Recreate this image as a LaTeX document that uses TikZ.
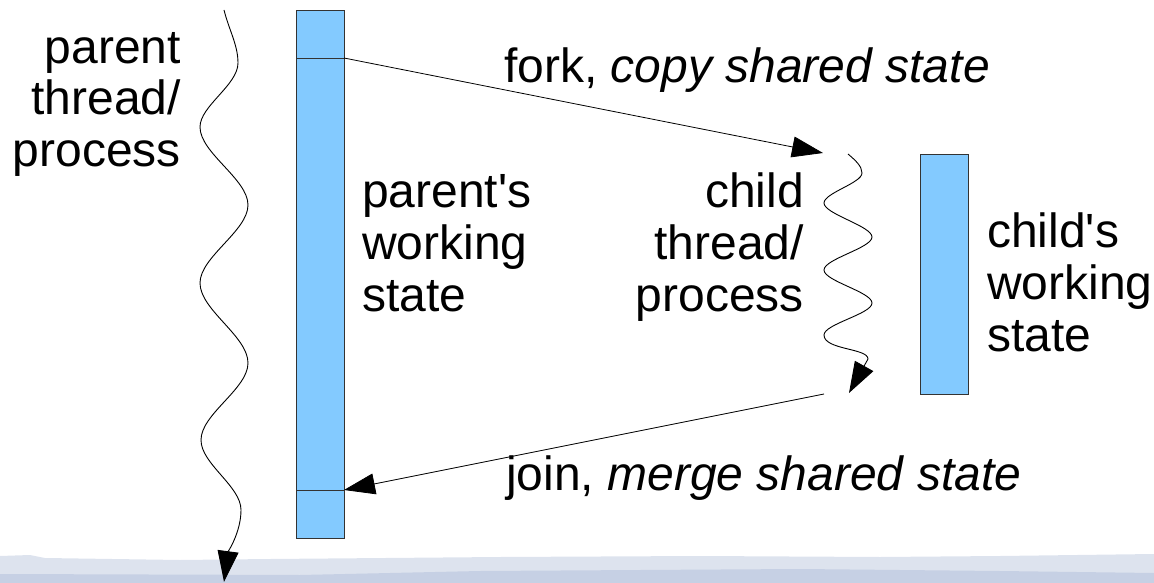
\documentclass[tikz,border=0pt]{standalone}
\usepackage{fontspec}
\setmainfont{Liberation Sans}
\usetikzlibrary{arrows.meta}
\definecolor{barblue}{HTML}{83CAFF}
\definecolor{bandA}{HTML}{DDE3EE}
\definecolor{bandB}{HTML}{C6D0E4}
\begin{document}
\begin{tikzpicture}[x=1pt,y=-1pt,
  bar/.style={draw=black!80, fill=barblue, line width=0.8pt, minimum width=48pt, inner sep=0pt, anchor=north west},
  lbl/.style={font=\fontsize{48}{52}\selectfont, inner sep=0pt},
  tri/.style={-{Triangle[length=31pt,width=21pt]}},
  arr/.style={line width=0.8pt, tri},
  wave/.style={line width=0.9pt, tri}]
\useasboundingbox (0,0) rectangle (1154,583);
% background band
\fill[bandA] (0,556) -- (30,555) -- (45,558) -- (180,560) -- (270,559) -- (500,557) -- (700,556) -- (880,557) -- (1000,556) -- (1154,554) -- (1154,583) -- (0,583) -- cycle;
\fill[bandB] (0,574) -- (300,575) -- (480,571) -- (800,569) -- (1000,571) -- (1154,573) -- (1154,583) -- (0,583) -- cycle;
% bars
\node[bar, minimum height=528pt] (pbar) at (296,10) {};
\node[bar, minimum height=240pt] (cbar) at (920,154) {};
\draw[line width=0.8pt, black!80] (pbar.north west) ++(0,48) -- ++(48,0);
\draw[line width=0.8pt, black!80] (pbar.south west) ++(0,-48) -- ++(48,0);
% labels (base anchor = last line)
\node[lbl, align=right, anchor=base east] (plabel) at (181,167) {parent\\thread/\\process};
\node[lbl, align=left, anchor=base west] (pstate) at (362,311) {parent\textquotesingle s\\working\\state};
\node[lbl, align=right, anchor=base east] (clabel) at (804,311) {child\\thread/\\process};
\node[lbl, align=left, anchor=base west] (cstate) at (987,351) {child\textquotesingle s\\working\\state};
\node[lbl, anchor=base west] (forklbl) at (504,83) {fork, \textit{copy shared state}};
\node[lbl, anchor=base west] (joinlbl) at (506,490) {join, \textit{merge shared state}};
% connectors
\coordinate (forkS) at (344,58);
\coordinate (forkT) at (823,153);
\coordinate (joinS) at (824,394);
\coordinate (joinT) at (344,490);
\draw[arr] (forkS) -- (forkT);
\draw[arr] (joinS) -- (joinT);
% wavy lines
\coordinate (pwStart) at (224,10);
\coordinate (pwEnd) at (224,582);
\coordinate (cwStart) at (848,154);
\coordinate (cwEnd) at (849,393);
\draw[wave] (pwStart)
  .. controls (229,30) and (238,45) .. (238,63)
  .. controls (238,85) and (200,106) .. (200,127)
  .. controls (200,153) and (248,179) .. (248,205)
  .. controls (248,231) and (200,257) .. (200,283)
  .. controls (200,310) and (248,336) .. (248,363)
  .. controls (248,389) and (201,414) .. (201,440)
  .. controls (201,464) and (241,486) .. (241,510)
  .. controls (241,532) and (228,552) .. (pwEnd);
\draw[wave] (cwStart)
  .. controls (855,160) and (862,166) .. (862,173)
  .. controls (862,183) and (824,193) .. (824,203)
  .. controls (824,214) and (872,226) .. (872,237)
  .. controls (872,248) and (824,259) .. (824,270)
  .. controls (824,281) and (872,292) .. (872,303)
  .. controls (872,314) and (824,324) .. (824,335)
  .. controls (824,350) and (868,348) .. (868,359)
  -- (cwEnd);
\end{tikzpicture}
\end{document}
